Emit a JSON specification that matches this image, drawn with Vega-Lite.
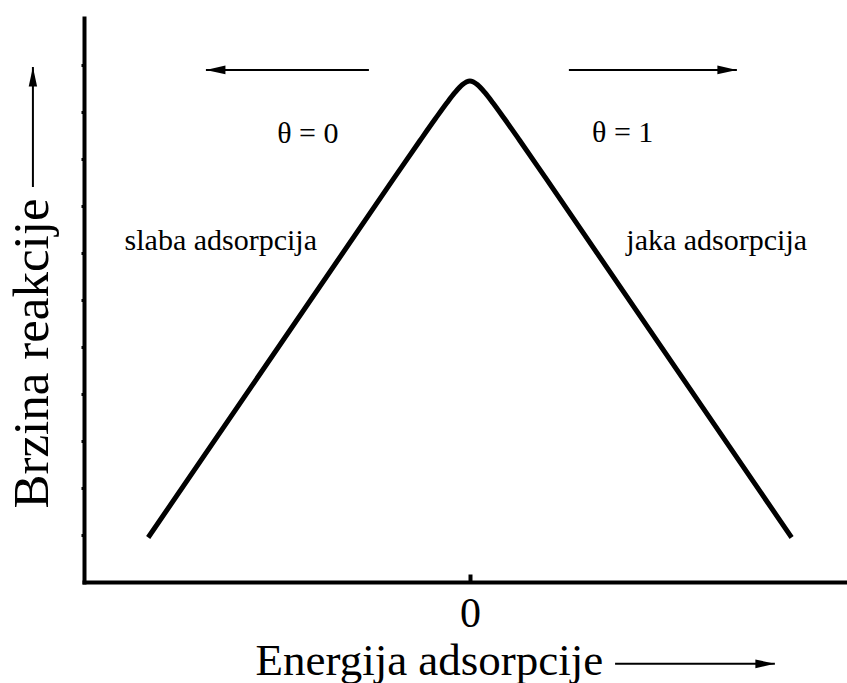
{
  "$schema": "https://vega.github.io/schema/vega-lite/v6.json",
  "width": 763,
  "height": 564,
  "autosize": {"type": "none"},
  "padding": {"left": 84, "top": 18, "right": 0, "bottom": 101},
  "background": "white",
  "config": {"view": {"stroke": null}},
  "datasets": {
    "krivulja": [
      {"energija": -8.42, "brzina": 0.947},
      {"energija": -2.0, "brzina": 8.577},
      {"energija": -1.3, "brzina": 9.399},
      {"energija": -0.9, "brzina": 9.861},
      {"energija": -0.6, "brzina": 10.197},
      {"energija": -0.4, "brzina": 10.406},
      {"energija": -0.2, "brzina": 10.581},
      {"energija": 0.0, "brzina": 10.66},
      {"energija": 0.2, "brzina": 10.581},
      {"energija": 0.4, "brzina": 10.406},
      {"energija": 0.6, "brzina": 10.197},
      {"energija": 0.9, "brzina": 9.861},
      {"energija": 1.3, "brzina": 9.399},
      {"energija": 2.0, "brzina": 8.577},
      {"energija": 8.42, "brzina": 0.947}
    ],
    "strelice": [
      {"x": -2.643, "y": 10.894, "x2": -6.909, "y2": 10.894, "smjer": "lijevo"},
      {"x": 2.591, "y": 10.894, "x2": 6.988, "y2": 10.894, "smjer": "desno"},
      {"x": -11.437, "y": 8.404, "x2": -11.437, "y2": 10.957, "smjer": "gore"},
      {"x": 3.8, "y": -1.74, "x2": 7.982, "y2": -1.74, "smjer": "desno"}
    ],
    "oznake": [
      {"x": -4.24, "y": 9.34, "tekst": "θ = 0"},
      {"x": 4.0, "y": 9.36, "tekst": "θ = 1"},
      {"x": -6.52, "y": 7.064, "tekst": "slaba adsorpcija"},
      {"x": 6.46, "y": 7.064, "tekst": "jaka adsorpcija"}
    ]
  },
  "layer": [
    {
      "data": {"name": "krivulja"},
      "mark": {"type": "line", "color": "black", "strokeWidth": 5, "interpolate": "monotone"},
      "encoding": {
        "x": {
          "field": "energija",
          "type": "quantitative",
          "scale": {"domain": [-10.1, 9.87], "nice": false, "zero": false},
          "axis": {
            "values": [0],
            "grid": false,
            "tickSize": -8,
            "tickWidth": 4,
            "tickColor": "black",
            "domainColor": "black",
            "domainWidth": 4,
            "domainCap": "square",
            "labelFont": "Liberation Serif",
            "labelFontSize": 42,
            "labelColor": "black",
            "labelPadding": 19,
            "labelFlush": false,
            "title": "Energija adsorpcije",
            "titleFont": "Liberation Serif",
            "titleFontSize": 45,
            "titleFontWeight": "normal",
            "titleColor": "black",
            "titleX": 171,
            "titleY": 92,
            "titleAlign": "left",
            "titleBaseline": "alphabetic"
          }
        },
        "y": {
          "field": "brzina",
          "type": "quantitative",
          "scale": {"domain": [0, 12], "nice": false, "zero": false},
          "axis": {
            "values": [1, 2, 3, 4, 5, 6, 7, 8, 9, 10, 11],
            "grid": false,
            "labels": false,
            "tickSize": 3,
            "tickWidth": 3,
            "tickColor": "black",
            "domainColor": "black",
            "domainWidth": 4,
            "domainCap": "square",
            "title": "Brzina reakcije",
            "titleFont": "Liberation Serif",
            "titleFontSize": 51,
            "titleFontWeight": "normal",
            "titleColor": "black",
            "titleAngle": 270,
            "titleX": -37,
            "titleY": 335,
            "titleAlign": "center",
            "titleBaseline": "alphabetic"
          }
        }
      }
    },
    {
      "data": {"name": "strelice"},
      "mark": {"type": "rule", "color": "black", "strokeWidth": 2},
      "encoding": {
        "x": {"field": "x", "type": "quantitative"},
        "x2": {"field": "x2"},
        "y": {"field": "y", "type": "quantitative"},
        "y2": {"field": "y2"}
      }
    },
    {
      "data": {"name": "strelice"},
      "mark": {"type": "point", "filled": true, "color": "black", "opacity": 1, "size": 380, "strokeWidth": 0},
      "encoding": {
        "x": {"field": "x2", "type": "quantitative"},
        "y": {"field": "y2", "type": "quantitative"},
        "shape": {
          "field": "smjer",
          "type": "nominal",
          "legend": null,
          "scale": {
            "domain": ["lijevo", "desno", "gore"],
            "range": ["M0,0L2,-0.45L2,0.45Z", "M0,0L-2,-0.45L-2,0.45Z", "M0,0L-0.43,2L0.43,2Z"]
          }
        }
      }
    },
    {
      "data": {"name": "oznake"},
      "mark": {"type": "text", "font": "Liberation Serif", "fontSize": 30, "color": "black", "align": "center", "baseline": "alphabetic"},
      "encoding": {
        "x": {"field": "x", "type": "quantitative"},
        "y": {"field": "y", "type": "quantitative"},
        "text": {"field": "tekst"}
      }
    }
  ]
}
